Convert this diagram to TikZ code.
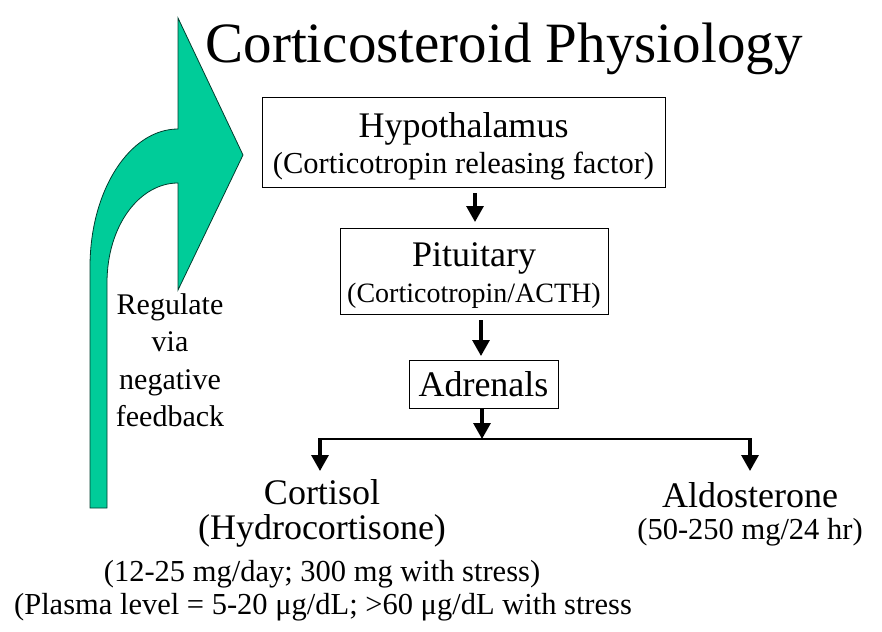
\documentclass[tikz,border=0pt]{standalone}
\usepackage{fontspec}
\setmainfont{Liberation Serif}
\usetikzlibrary{arrows.meta}
\definecolor{arrowgreen}{RGB}{0,204,153}
\tikzset{
  box/.style={draw, line width=1pt, inner sep=0pt, align=center},
  txt/.style={inner sep=0pt, align=center},
  big/.style={font=\fontsize{36}{42}\selectfont},
  mid/.style={font=\fontsize{30.5}{36}\selectfont},
  flow/.style={line width=3.2pt, -{Triangle[width=17pt,length=16pt]}},
}
\begin{document}
\begin{tikzpicture}[x=1pt,y=-1pt]
\useasboundingbox (0,0) rectangle (882,631);
% feedback arrow
\draw[fill=arrowgreen, draw=black!70!arrowgreen, line width=0.8pt]
  (90,508) -- (90,267) .. controls (90,190) and (130,129) .. (178,129)
  -- (178,18) -- (243,155) -- (178,290) -- (178,183)
  .. controls (140,183) and (107,225) .. (107,283) -- (107,508) -- cycle;
\node[txt, font=\fontsize{30}{37.5}\selectfont] (fb) at (170,360) {Regulate\\via\\negative\\feedback};
% title
\node[txt, font=\fontsize{57}{64}\selectfont] (title) at (504,49) {Corticosteroid Physiology};
% boxes
\node[box, minimum width=403pt, minimum height=89pt] (hyp) at (463.5,142.5) {};
\node[txt, big] (hyp1) at (463.5,129) {Hypothalamus};
\node[txt, mid] (hyp2) at (463.5,166) {(Corticotropin releasing factor)};
\node[box, minimum width=268pt, minimum height=86pt] (pit) at (474,271) {};
\node[txt, big] (pit1) at (474,258) {Pituitary};
\node[txt, font=\fontsize{28}{34}\selectfont] (pit2) at (474,296) {(Corticotropin/ACTH)};
\node[box, minimum width=149pt, minimum height=48pt, big] (adr) at (483.5,384) {Adrenals};
% products
\node[txt, big] (cort) at (322,492) {Cortisol};
\node[txt, big] (hc) at (322,531) {(Hydrocortisone)};
\node[txt, mid] (dose) at (322,574) {(12-25 mg/day; 300 mg with stress)};
\node[txt, mid] (plasma) at (323,607) {(Plasma level = 5-20 μg/dL; >60 μg/dL with stress};
\node[txt, big] (aldo) at (750,495) {Aldosterone};
\node[txt, mid] (aldo2) at (750,532) {(50-250 mg/24 hr)};
% connectors
\coordinate (a1s) at (475,193);
\coordinate (a1e) at (475,222);
\coordinate (a2s) at (481,320);
\coordinate (a2e) at (481,356);
\coordinate (a3s) at (482,409);
\coordinate (j) at (482,439);
\coordinate (jl) at (320,439);
\coordinate (jr) at (750,439);
\coordinate (el) at (320,471);
\coordinate (er) at (750,471);
\draw[flow] (a1s) -- (a1e);
\draw[flow] (a2s) -- (a2e);
\draw[flow] (a3s) -- (j);
\draw[line width=1.3pt] (jl) -- (jr);
\draw[flow] ([yshift=0.6pt]jl) -- (el);
\draw[flow] ([yshift=0.6pt]jr) -- (er);
\end{tikzpicture}
\end{document}
